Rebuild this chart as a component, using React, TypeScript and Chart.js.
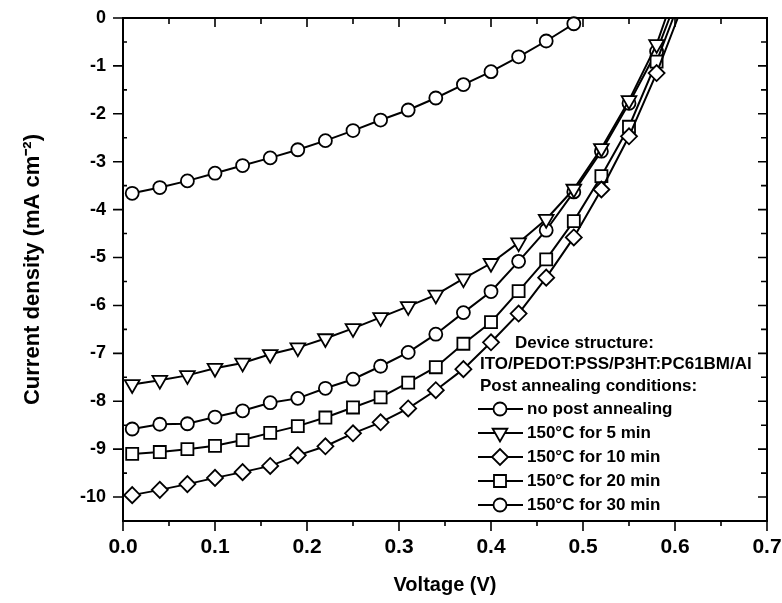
import React, { useEffect, useRef } from 'react';
import { Chart, registerables } from 'chart.js';

Chart.register(...registerables);

// ---- data ----
const voltages = [0.01, 0.04, 0.07, 0.10, 0.13, 0.16, 0.19, 0.22, 0.25, 0.28, 0.31, 0.34, 0.37, 0.40, 0.43, 0.46, 0.49, 0.52, 0.55, 0.58];

const jNoAnneal = [-3.66, -3.54, -3.40, -3.24, -3.08, -2.92, -2.75, -2.56, -2.35, -2.13, -1.92, -1.67, -1.39, -1.12, -0.81, -0.48, -0.12];
const j5min = [-7.65, -7.56, -7.46, -7.31, -7.20, -7.02, -6.88, -6.69, -6.48, -6.25, -6.02, -5.78, -5.44, -5.12, -4.69, -4.20, -3.57, -2.72, -1.72, -0.55];
const j10min = [-9.96, -9.85, -9.73, -9.60, -9.48, -9.35, -9.13, -8.94, -8.67, -8.44, -8.15, -7.77, -7.33, -6.77, -6.17, -5.42, -4.58, -3.58, -2.47, -1.15];
const j20min = [-9.10, -9.06, -9.00, -8.93, -8.81, -8.66, -8.52, -8.34, -8.13, -7.92, -7.61, -7.29, -6.80, -6.35, -5.70, -5.04, -4.24, -3.30, -2.27, -0.91];
const j30min = [-8.58, -8.48, -8.47, -8.33, -8.20, -8.03, -7.94, -7.73, -7.54, -7.27, -6.98, -6.60, -6.15, -5.71, -5.08, -4.43, -3.63, -2.78, -1.78, -0.70];

// open-circuit voltages where each curve reaches J = 0 (line end, no marker)
const vocValues = [0.495, 0.590, 0.603, 0.598, 0.594];

const seriesLabels = ['no post annealing', '150°C for 5 min', '150°C for 10 min', '150°C for 20 min', '150°C for 30 min'];
const legendHeader = ['Device structure:', 'ITO/PEDOT:PSS/P3HT:PC61BM/Al', 'Post annealing conditions:'];

const xTickValues = [0, 0.1, 0.2, 0.3, 0.4, 0.5, 0.6, 0.7];
const xMinorValues = [0.05, 0.15, 0.25, 0.35, 0.45, 0.55, 0.65];
const yTickValues = [0, -1, -2, -3, -4, -5, -6, -7, -8, -9, -10];
const yMinorValues = [-0.5, -1.5, -2.5, -3.5, -4.5, -5.5, -6.5, -7.5, -8.5, -9.5];

const xTitle = 'Voltage (V)';
const yTitle = 'Current density (mA cm⁻²)';

const FONT = "'Liberation Sans', Arial, Helvetica, sans-serif";

type MarkerStyle = { shape: 'circle' | 'triangle' | 'rectRot' | 'rect'; radius: number; rotation: number };
const markers: MarkerStyle[] = [
  { shape: 'circle', radius: 6.5, rotation: 0 },
  { shape: 'triangle', radius: 8.5, rotation: 180 },
  { shape: 'rectRot', radius: 8, rotation: 0 },
  { shape: 'rect', radius: 8.5, rotation: 0 },
  { shape: 'circle', radius: 6.5, rotation: 0 },
];

const allSeries = [jNoAnneal, j5min, j10min, j20min, j30min];

function drawMarker(ctx: CanvasRenderingContext2D, m: MarkerStyle, x: number, y: number) {
  ctx.beginPath();
  const r = m.radius;
  if (m.shape === 'circle') {
    ctx.arc(x, y, r, 0, Math.PI * 2);
  } else if (m.shape === 'triangle') {
    let rad = (m.rotation * Math.PI) / 180;
    ctx.moveTo(x + Math.sin(rad) * r, y - Math.cos(rad) * r);
    rad += (2 * Math.PI) / 3;
    ctx.lineTo(x + Math.sin(rad) * r, y - Math.cos(rad) * r);
    rad += (2 * Math.PI) / 3;
    ctx.lineTo(x + Math.sin(rad) * r, y - Math.cos(rad) * r);
    ctx.closePath();
  } else if (m.shape === 'rectRot') {
    ctx.moveTo(x - r, y);
    ctx.lineTo(x, y - r);
    ctx.lineTo(x + r, y);
    ctx.lineTo(x, y + r);
    ctx.closePath();
  } else {
    const s = Math.SQRT1_2 * r;
    ctx.rect(x - s, y - s, 2 * s, 2 * s);
  }
  ctx.fillStyle = '#fff';
  ctx.fill();
  ctx.lineWidth = 1.8;
  ctx.strokeStyle = '#000';
  ctx.stroke();
}

const framePlugin = {
  id: 'frameTicks',
  beforeDatasetsDraw(chart: any) {
    const { ctx, chartArea: a, scales } = chart;
    const x = scales.x;
    const y = scales.y;
    ctx.save();
    ctx.strokeStyle = '#000';
    ctx.lineWidth = 2;
    ctx.strokeRect(a.left, a.top, a.right - a.left, a.bottom - a.top);
    ctx.lineWidth = 1.6;
    ctx.beginPath();
    xTickValues.forEach((v) => {
      const px = x.getPixelForValue(v);
      ctx.moveTo(px, a.bottom);
      ctx.lineTo(px, a.bottom + 10);
      ctx.moveTo(px, a.top);
      ctx.lineTo(px, a.top + 9);
    });
    xMinorValues.forEach((v) => {
      const px = x.getPixelForValue(v);
      ctx.moveTo(px, a.bottom);
      ctx.lineTo(px, a.bottom + 5);
      ctx.moveTo(px, a.top);
      ctx.lineTo(px, a.top + 6);
    });
    yTickValues.forEach((v) => {
      const py = y.getPixelForValue(v);
      ctx.moveTo(a.left, py);
      ctx.lineTo(a.left - 10, py);
      ctx.moveTo(a.right, py);
      ctx.lineTo(a.right - 9, py);
    });
    yMinorValues.forEach((v) => {
      const py = y.getPixelForValue(v);
      ctx.moveTo(a.left, py);
      ctx.lineTo(a.left + 4, py);
      ctx.moveTo(a.right, py);
      ctx.lineTo(a.right - 6, py);
    });
    ctx.stroke();
    ctx.restore();
  },
};

const legendPlugin = {
  id: 'customLegend',
  afterDraw(chart: any) {
    const { ctx } = chart;
    ctx.save();
    ctx.font = `bold 17px ${FONT}`;
    ctx.fillStyle = '#000';
    ctx.textBaseline = 'middle';
    ctx.textAlign = 'left';
    ctx.fillText(legendHeader[0], 515, 343);
    ctx.fillText(legendHeader[1], 480, 364);
    ctx.fillText(legendHeader[2], 480, 386);
    const ys = [409, 433, 457, 481, 505];
    seriesLabels.forEach((label, i) => {
      const yy = ys[i];
      ctx.beginPath();
      ctx.strokeStyle = '#000';
      ctx.lineWidth = 2;
      ctx.moveTo(478, yy);
      ctx.lineTo(523, yy);
      ctx.stroke();
      drawMarker(ctx, markers[i], 500, yy);
      ctx.fillStyle = '#000';
      ctx.fillText(label, 527, yy);
    });
    ctx.restore();
  },
};

export default function App() {
  const canvasRef = useRef<HTMLCanvasElement | null>(null);

  useEffect(() => {
    if (!canvasRef.current) return;
    const datasets = allSeries.map((vals, i) => {
      const pts = vals.map((v, k) => ({ x: voltages[k], y: v }));
      pts.push({ x: vocValues[i], y: 0 });
      const n = vals.length;
      const m = markers[i];
      return {
        label: seriesLabels[i],
        data: pts,
        borderColor: '#000',
        borderWidth: 2,
        backgroundColor: '#fff',
        pointStyle: m.shape,
        pointRotation: m.rotation,
        pointRadius: (c: any) => (c.dataIndex >= n ? 0 : m.radius),
        pointBorderWidth: 1.8,
        pointBorderColor: '#000',
        pointBackgroundColor: '#fff',
        tension: 0,
        clip: false as any,
        fill: false,
      };
    });

    const chart = new Chart(canvasRef.current, {
      type: 'line',
      data: { datasets },
      options: {
        animation: false,
        responsive: false,
        devicePixelRatio: 1,
        layout: { padding: { top: 18, right: 15, left: 0, bottom: 0 } },
        plugins: { legend: { display: false }, tooltip: { enabled: false } },
        scales: {
          x: {
            type: 'linear',
            min: 0,
            max: 0.7,
            afterBuildTicks: (s: any) => {
              s.ticks = xTickValues.map((v) => ({ value: v }));
            },
            afterFit: (s: any) => {
              s.height = 82;
              s.paddingLeft = 0;
              s.paddingRight = 0;
            },
            ticks: {
              callback: (v: any) => Number(v).toFixed(1),
              font: { size: 21, weight: 'bold', family: FONT },
              color: '#000',
              padding: 14,
              maxRotation: 0,
              autoSkip: false,
            },
            grid: { display: false, drawTicks: false },
            border: { display: false },
            title: {
              display: true,
              text: xTitle,
              font: { size: 20, weight: 'bold', family: FONT },
              color: '#000',
              padding: { top: 0, bottom: 6 },
            },
          },
          y: {
            type: 'linear',
            min: -10.5,
            max: 0,
            afterBuildTicks: (s: any) => {
              s.ticks = yTickValues.map((v) => ({ value: v }));
            },
            afterFit: (s: any) => {
              s.width = 123;
              s.paddingTop = 0;
              s.paddingBottom = 0;
            },
            ticks: {
              callback: (v: any) => String(v),
              font: { size: 18, weight: 'bold', family: FONT },
              color: '#000',
              padding: 17,
              autoSkip: false,
            },
            grid: { display: false, drawTicks: false },
            border: { display: false },
            title: {
              display: true,
              text: yTitle,
              font: { size: 22, weight: 'bold', family: FONT },
              color: '#000',
              padding: { top: 20, bottom: 0 },
            },
          },
        },
      },
      plugins: [framePlugin, legendPlugin],
    } as any);

    return () => chart.destroy();
  }, []);

  return (
    <div style={{ position: 'fixed', left: 0, top: 0, width: 782, height: 603, background: '#fff' }}>
      <canvas ref={canvasRef} width={782} height={603} style={{ width: 782, height: 603, display: 'block' }} />
    </div>
  );
}
